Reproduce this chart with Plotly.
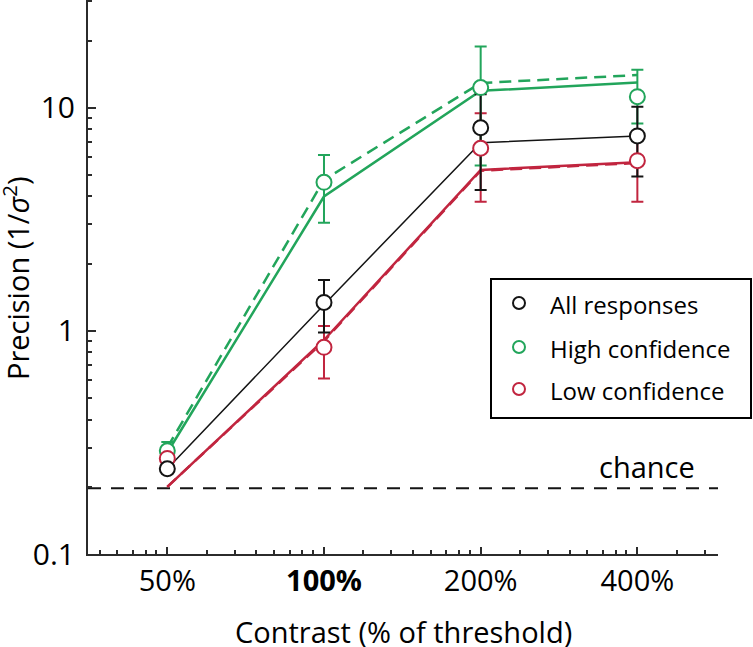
import math
import plotly.graph_objects as go

# ---- data ----
contrast = [50, 100, 200, 400]
tick_labels = ["50%", "<b>100%</b>", "200%", "400%"]

all_resp = [0.241, 1.34, 8.13, 7.47]
all_hi = [0.252, 1.69, 11.5, 10.1]
all_lo = [0.231, 0.982, 4.28, 4.91]

high_conf = [0.290, 4.63, 12.3, 11.2]
high_hi = [0.318, 6.14, 18.8, 14.8]
high_lo = [0.272, 3.05, 5.5, 8.5]

low_conf = [0.268, 0.844, 6.58, 5.79]
low_hi = [0.285, 1.05, 9.44, 7.6]
low_lo = [0.252, 0.611, 3.79, 3.79]

# model curves
all_fit = [0.241, 1.31, 6.97, 7.47]
high_fit = [0.285, 4.0, 11.9, 12.95]
high_fit2 = [0.300, 4.75, 12.9, 14.0]
low_fit = [0.200, 0.91, 5.26, 5.69]
low_fit2 = [0.200, 0.90, 5.22, 5.65]

chance = 0.197

legend_names = ["All responses", "High confidence", "Low confidence"]

y_minor = [0.2, 0.3, 0.4, 0.5, 0.6, 0.7, 0.8, 0.9,
           2, 3, 4, 5, 6, 7, 8, 9, 20, 30]
octave_minor_ratios = [1.19, 1.347, 1.4825, 1.603, 1.718, 1.817, 1.905]
octave_bases = [25, 50, 100, 200, 400]

BLACK = "#141414"
GREEN = "#22a55b"
RED = "#c1253f"
AX = "#2b2b2b"
FONT = "Open Sans"
legend_colors = [BLACK, GREEN, RED]

W, H = 753, 647
ML, MR, MT, MB = 88, 35, 0, 93
PW, PH = W - ML - MR, H - MT - MB


def px_x(px):
    return (px - ML) / PW


def px_y(py):
    return 1 - (py - MT) / PH


x_range_log = [1.5466, 2.757]
x_min, x_max = 10 ** x_range_log[0], 10 ** x_range_log[1]
x_minor = [b * r for b in octave_bases for r in octave_minor_ratios
           if x_min < b * r < x_max]

fig = go.Figure()

# chance line
fig.add_trace(go.Scatter(x=[x_min, x_max], y=[chance, chance], mode="lines",
                         line=dict(color=BLACK, width=2, dash="13px,10px"),
                         showlegend=False, hoverinfo="skip"))

# model lines
fig.add_trace(go.Scatter(x=contrast, y=all_fit, mode="lines",
                         line=dict(color=BLACK, width=1.5), showlegend=False))
fig.add_trace(go.Scatter(x=contrast, y=high_fit2, mode="lines",
                         line=dict(color=GREEN, width=2.5, dash="12px,7px"), showlegend=False))
fig.add_trace(go.Scatter(x=contrast, y=high_fit, mode="lines",
                         line=dict(color=GREEN, width=2.5), showlegend=False))
fig.add_trace(go.Scatter(x=contrast, y=low_fit2, mode="lines",
                         line=dict(color=RED, width=2.5, dash="12px,7px"), showlegend=False))
fig.add_trace(go.Scatter(x=contrast, y=low_fit, mode="lines",
                         line=dict(color=RED, width=2.5), showlegend=False))


def err(vals, hi, lo, color):
    return go.Scatter(
        x=contrast, y=vals, mode="markers",
        marker=dict(size=2, opacity=0),
        error_y=dict(type="data", symmetric=False,
                     array=[h - v for h, v in zip(hi, vals)],
                     arrayminus=[v - l for l, v in zip(lo, vals)],
                     color=color, thickness=2, width=6),
        showlegend=False, hoverinfo="skip")


fig.add_trace(err(low_conf, low_hi, low_lo, RED))
fig.add_trace(err(high_conf, high_hi, high_lo, GREEN))
fig.add_trace(err(all_resp, all_hi, all_lo, BLACK))

# markers
for vals, color, name in [(high_conf, GREEN, legend_names[1]),
                          (low_conf, RED, legend_names[2]),
                          (all_resp, BLACK, legend_names[0])]:
    fig.add_trace(go.Scatter(x=contrast, y=vals, mode="markers", name=name,
                             marker=dict(symbol="circle", size=15, color="white",
                                         line=dict(color=color, width=2)),
                             showlegend=False))

# ---- legend box drawn by hand ----
box = dict(x0=491, x1=751, y0=279, y1=418)
fig.add_shape(type="rect", xref="paper", yref="paper",
              x0=px_x(box["x0"]), x1=px_x(box["x1"]),
              y0=px_y(box["y1"]), y1=px_y(box["y0"]),
              line=dict(color="black", width=2), fillcolor="white", layer="above")
row_y = [303, 347, 389]
for name, color, ry in zip(legend_names, legend_colors, row_y):
    fig.add_shape(type="circle", xref="paper", yref="paper",
                  xsizemode="pixel", ysizemode="pixel",
                  xanchor=px_x(519), yanchor=px_y(ry),
                  x0=-6, x1=6, y0=-6, y1=6,
                  line=dict(color=color, width=2), fillcolor="white", layer="above")
    fig.add_annotation(text=name, x=px_x(548), xref="paper", xanchor="left",
                       y=px_y(ry + 1), yref="paper", yanchor="middle", showarrow=False,
                       font=dict(family=FONT, size=24, color="black"))

fig.add_annotation(text="chance", x=px_x(697), xref="paper", xanchor="right",
                   y=math.log10(chance), yref="y", yanchor="bottom", yshift=0,
                   showarrow=False,
                   font=dict(family=FONT, size=29, color="black"))

fig.add_annotation(text="Precision (1/<i>σ</i><sup>2</sup>)", textangle=-90,
                   x=px_x(16), xref="paper", xanchor="center",
                   y=px_y(278), yref="paper", yanchor="middle", showarrow=False,
                   font=dict(family=FONT, size=29, color="black"))

fig.add_annotation(text="Contrast (% of threshold)",
                   x=px_x(403), xref="paper", xanchor="center",
                   y=px_y(631), yref="paper", yanchor="middle", showarrow=False,
                   font=dict(family=FONT, size=29, color="black"))

fig.update_xaxes(type="log", range=x_range_log, tickmode="array", tickvals=contrast,
                 ticktext=tick_labels, ticks="inside", ticklen=7, tickwidth=2,
                 tickcolor=AX, showline=True, linecolor=AX, linewidth=2,
                 showgrid=False, zeroline=False, ticklabelstandoff=0,
                 tickfont=dict(family=FONT, size=29, color="black"),
                 minor=dict(tickmode="array", tickvals=x_minor, ticks="inside",
                            ticklen=4, tickwidth=1.5, tickcolor=AX, showgrid=False))

fig.update_yaxes(type="log", range=[-1, 1.4825], tickmode="array", tickvals=[0.1, 1, 10],
                 ticktext=["0.1", "1", "10"], ticks="inside", ticklen=8, tickwidth=2,
                 tickcolor=AX, showline=True, linecolor=AX, linewidth=2,
                 showgrid=False, zeroline=False, ticklabelstandoff=5,
                 tickfont=dict(family=FONT, size=30, color="black"),
                 minor=dict(tickmode="array", tickvals=y_minor, ticks="inside",
                            ticklen=4, tickwidth=1.5, tickcolor=AX, showgrid=False))

fig.update_layout(
    width=W, height=H,
    margin=dict(l=ML, r=MR, t=MT, b=MB),
    paper_bgcolor="white", plot_bgcolor="white",
    font=dict(family=FONT, color="black"),
    showlegend=False,
)

fig.write_html("out.html",
               config={"displayModeBar": False},
               post_script="document.body.style.margin='0';"
                           "document.body.style.overflow='hidden';")
